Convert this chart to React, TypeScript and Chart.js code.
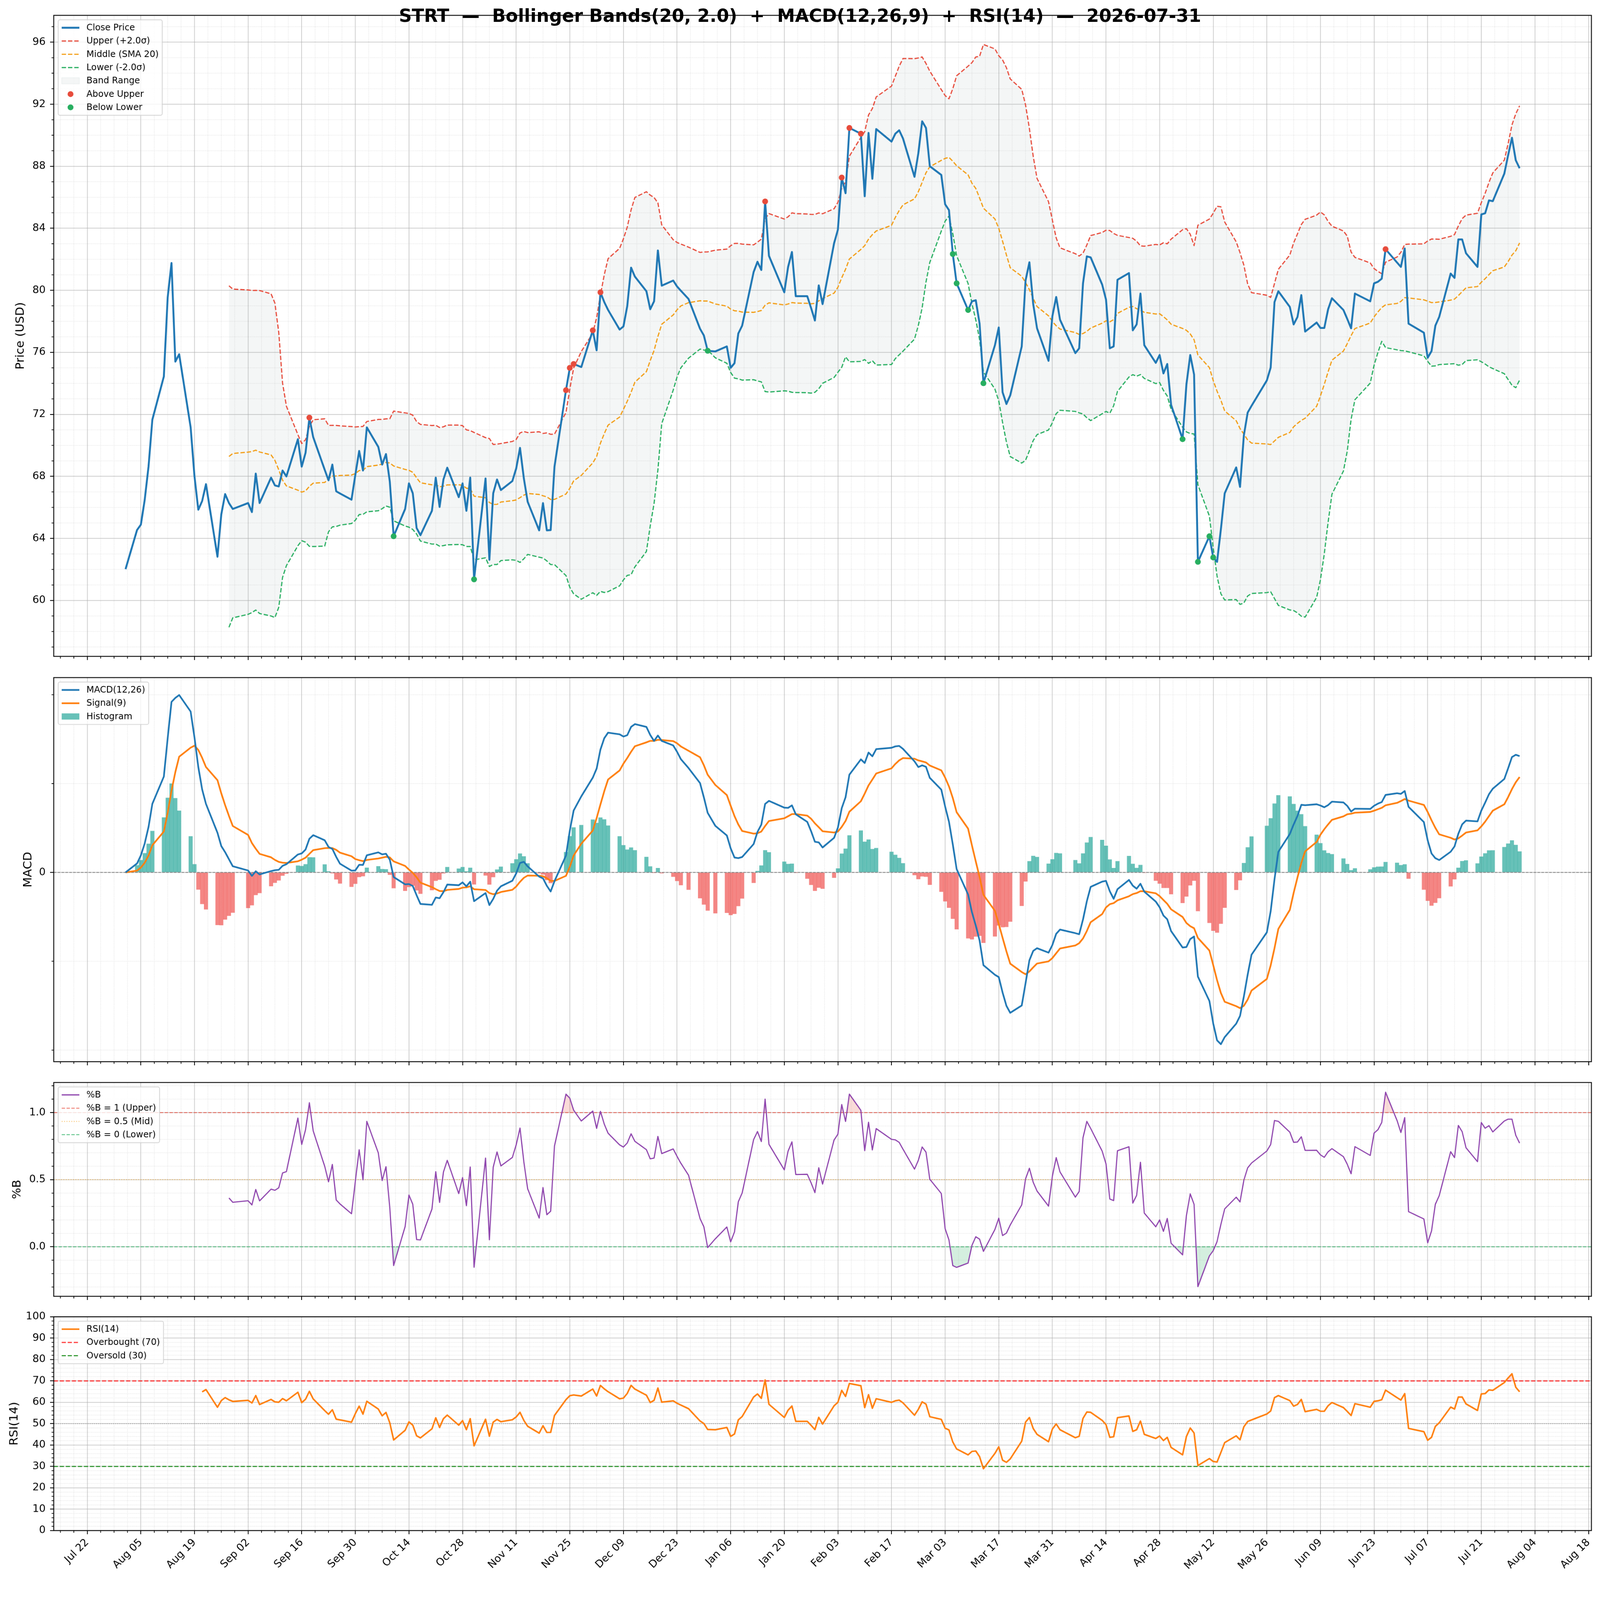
import React, { useEffect, useRef } from 'react';
import { Chart, registerables } from 'chart.js';

Chart.register(...registerables);

const FONT = '"DejaVu Sans", "Liberation Sans", sans-serif';
const W = 4378;
const H = 4322;

// ---------------- DATA ----------------
const TITLE = 'STRT  \u2014  Bollinger Bands(20, 2.0)  +  MACD(12,26,9)  +  RSI(14)  \u2014  2026-07-31';

// daily closing prices, one value per trading day (weekdays minus market holidays), grouped by month
const close2025Aug = [62.02, 64.54, 64.89, 66.48, 68.63, 71.66, 74.44, 79.54, 81.76, 75.40, 75.88, 71.16, 68.00, 65.85, 66.41, 67.50, 62.82, 65.55, 66.86, 66.28, 65.90];
const close2025Sep = [66.28, 65.70, 68.18, 66.28, 67.92, 67.42, 67.35, 68.38, 68.00, 70.40, 68.63, 69.52, 71.79, 70.53, 68.43, 67.75, 68.76, 67.04, 66.90, 66.50, 68.10];
const close2025Oct = [69.64, 68.38, 71.16, 69.90, 68.76, 69.44, 67.67, 64.14, 65.90, 67.55, 66.91, 64.67, 64.21, 65.78, 67.92, 66.03, 67.80, 68.56, 66.66, 67.55, 65.78, 67.92, 61.36];
const close2025Nov = [67.87, 62.62, 66.91, 67.80, 67.12, 67.70, 68.51, 69.84, 67.87, 66.36, 64.52, 66.28, 64.52, 64.54, 68.63, 73.56, 75.00, 75.25, 75.05];
const close2025Dec = [77.42, 76.13, 79.87, 79.24, 78.73, 77.47, 77.67, 78.98, 81.46, 80.88, 79.94, 78.78, 79.29, 82.57, 80.30, 80.63, 80.25, 79.97, 79.44, 77.52, 77.09, 76.10];
const close2026Jan = [76.06, 76.38, 75.00, 75.30, 77.22, 77.72, 81.18, 81.84, 81.31, 85.73, 82.22, 79.87, 81.51, 82.47, 79.62, 79.62, 78.86, 78.05, 80.32, 79.11];
const close2026Feb = [83.03, 83.91, 87.27, 86.26, 90.47, 90.10, 86.06, 90.15, 87.19, 90.40, 89.59, 90.10, 90.32, 89.79, 87.32, 88.83, 90.90, 90.47, 88.00];
const close2026Mar = [87.44, 85.55, 85.17, 82.34, 80.45, 78.73, 79.29, 79.36, 77.85, 74.01, 76.46, 77.60, 73.43, 72.67, 73.23, 76.38, 80.63, 81.81, 79.11, 77.55, 75.45, 78.33];
const close2026Apr = [79.57, 78.10, 75.95, 76.26, 80.45, 82.19, 82.12, 80.37, 79.41, 76.26, 76.38, 80.68, 81.11, 77.42, 77.80, 79.79, 76.46, 75.32, 75.83, 74.64, 75.25];
const close2026May = [72.62, 70.40, 73.93, 75.83, 74.57, 62.49, 64.14, 62.77, 62.49, 64.59, 66.91, 68.58, 67.32, 70.65, 72.12, 72.55, 74.19, 75.02, 79.24, 79.94];
const close2026Jun = [78.93, 77.80, 78.28, 79.69, 77.34, 77.92, 77.57, 77.57, 78.78, 79.49, 78.73, 78.15, 77.55, 79.79, 79.29, 80.45, 80.55, 80.75, 82.65, 81.79, 81.51];
const close2026Jul = [82.70, 77.85, 77.27, 75.65, 76.08, 77.72, 78.28, 81.08, 80.80, 83.28, 83.28, 82.39, 81.51, 84.89, 84.97, 85.80, 85.75, 87.52, 88.71, 89.84, 88.38, 87.87];

// market holidays with no bar
const HOLIDAYS = ['2025-09-01', '2025-11-27', '2025-12-25', '2026-01-01', '2026-01-19', '2026-02-16', '2026-04-03', '2026-05-25', '2026-06-19', '2026-07-03'];

const MONTH_BLOCKS = [
  { year: 2025, month: 7, close: close2025Aug },
  { year: 2025, month: 8, close: close2025Sep },
  { year: 2025, month: 9, close: close2025Oct },
  { year: 2025, month: 10, close: close2025Nov },
  { year: 2025, month: 11, close: close2025Dec },
  { year: 2026, month: 0, close: close2026Jan },
  { year: 2026, month: 1, close: close2026Feb },
  { year: 2026, month: 2, close: close2026Mar },
  { year: 2026, month: 3, close: close2026Apr },
  { year: 2026, month: 4, close: close2026May },
  { year: 2026, month: 5, close: close2026Jun },
  { year: 2026, month: 6, close: close2026Jul },
];

// x-axis tick labels: every 14 days starting 2025-07-22 (day 0)
const X_TICK_LABELS = ['Jul 22', 'Aug 05', 'Aug 19', 'Sep 02', 'Sep 16', 'Sep 30', 'Oct 14', 'Oct 28', 'Nov 11', 'Nov 25', 'Dec 09', 'Dec 23', 'Jan 06', 'Jan 20', 'Feb 03', 'Feb 17', 'Mar 03', 'Mar 17', 'Mar 31', 'Apr 14', 'Apr 28', 'May 12', 'May 26', 'Jun 09', 'Jun 23', 'Jul 07', 'Jul 21', 'Aug 04', 'Aug 18'];
const X_TICK_STEP_DAYS = 14;
const PRICE_TICKS = [60, 64, 68, 72, 76, 80, 84, 88, 92, 96];
const MACD_TICKS = [0];
const PCTB_TICKS = [0, 0.5, 1.0];
const RSI_TICKS = [0, 10, 20, 30, 40, 50, 60, 70, 80, 90, 100];

const BB_WINDOW = 20;
const BB_K = 2;
const MACD_FAST = 12;
const MACD_SLOW = 26;
const MACD_SIGNAL = 9;
const RSI_N = 14;
const RSI_OVERBOUGHT = 70;
const RSI_OVERSOLD = 30;
const RSI_MID = 50;

// ---------------- styles ----------------
const BLUE = '#1f77b4';
const ORANGE = '#ff7f0e';
const RED = '#e74c3c';
const MID_ORANGE = '#f39c12';
const GREEN = '#27ae60';
const PURPLE = '#8e44ad';
const TEAL = 'rgba(38,166,154,0.7)';
const SALMON = 'rgba(239,83,80,0.7)';
const BAND_FILL = 'rgba(149,165,166,0.1)';
const MAJOR_GRID = 'rgba(176,176,176,0.6)';
const MINOR_GRID = 'rgba(176,176,176,0.5)';

const AREA_LEFT = 147;
const AREA_RIGHT = 4354.5;
const PANELS = [
  { top: 0, h: 1830, areaTop: 42, areaBottom: 1796 },
  { top: 1830, h: 1100, areaTop: 1854, areaBottom: 2905 },
  { top: 2930, h: 650, areaTop: 2962, areaBottom: 3547 },
  { top: 3580, h: 742, areaTop: 3603, areaBottom: 4188 },
];

// ---------------- derived series ----------------
const DAY0 = Date.UTC(2025, 6, 22);
const pad2 = (n: number) => (n < 10 ? '0' + n : String(n));
const xs: number[] = [];
const close: number[] = [];
for (const blk of MONTH_BLOCKS) {
  let k = 0;
  for (let d = 1; d <= 31; d++) {
    const t = Date.UTC(blk.year, blk.month, d);
    const dt = new Date(t);
    if (dt.getUTCMonth() !== blk.month) break;
    const wd = dt.getUTCDay();
    if (wd === 0 || wd === 6) continue;
    const iso = `${blk.year}-${pad2(blk.month + 1)}-${pad2(d)}`;
    if (HOLIDAYS.includes(iso)) continue;
    if (k < blk.close.length) {
      xs.push(Math.round((t - DAY0) / 86400000));
      close.push(blk.close[k]);
    }
    k++;
  }
}

function rollingMeanStd(a: number[], n: number) {
  const mid: (number | null)[] = [];
  const sd: (number | null)[] = [];
  for (let i = 0; i < a.length; i++) {
    if (i < n - 1) { mid.push(null); sd.push(null); continue; }
    const w = a.slice(i - n + 1, i + 1);
    const m = w.reduce((s, v) => s + v, 0) / n;
    const v = w.reduce((s, x) => s + (x - m) * (x - m), 0) / (n - 1);
    mid.push(m);
    sd.push(Math.sqrt(v));
  }
  return { mid, sd };
}
function ema(a: number[], span: number) {
  const k = 2 / (span + 1);
  const out: number[] = [];
  let prev = a[0];
  a.forEach((v, i) => { prev = i === 0 ? v : k * v + (1 - k) * prev; out.push(prev); });
  return out;
}
function rsiWilder(a: number[], n: number) {
  const out: (number | null)[] = a.map(() => null);
  let ag = 0, al = 0;
  for (let i = 1; i < a.length; i++) {
    const d = a[i] - a[i - 1];
    const g = Math.max(d, 0), l = Math.max(-d, 0);
    if (i === 1) { ag = g; al = l; } else { ag += (g - ag) / n; al += (l - al) / n; }
    if (i >= n) out[i] = al === 0 ? 100 : 100 - 100 / (1 + ag / al);
  }
  return out;
}

const bb = rollingMeanStd(close, BB_WINDOW);
const middle = bb.mid;
const upper = bb.mid.map((m, i) => (m == null ? null : m + BB_K * (bb.sd[i] as number)));
const lower = bb.mid.map((m, i) => (m == null ? null : m - BB_K * (bb.sd[i] as number)));
const emaFast = ema(close, MACD_FAST);
const emaSlow = ema(close, MACD_SLOW);
const macd = emaFast.map((v, i) => v - emaSlow[i]);
const signal = ema(macd, MACD_SIGNAL);
const hist = macd.map((v, i) => v - signal[i]);
const pctB = close.map((c, i) => (upper[i] == null ? null : (c - (lower[i] as number)) / ((upper[i] as number) - (lower[i] as number))));
const rsi = rsiWilder(close, RSI_N);

const pts = (ys: (number | null)[]) => xs.map((x, i) => ({ x, y: ys[i] }));
const aboveUpper = xs.map((x, i) => (upper[i] != null && close[i] > (upper[i] as number) ? { x, y: close[i] } : null)).filter(Boolean);
const belowLower = xs.map((x, i) => (lower[i] != null && close[i] < (lower[i] as number) ? { x, y: close[i] } : null)).filter(Boolean);

// axis limits like matplotlib autoscale (5% margins, bars 1 day wide)
const X_MIN = xs[0] - 0.5 - 0.05 * (xs[xs.length - 1] - xs[0] + 1);
const X_MAX = xs[xs.length - 1] + 0.5 + 0.05 * (xs[xs.length - 1] - xs[0] + 1);
function padRange(vals: (number | null)[]) {
  const v = vals.filter((x) => x != null && isFinite(x as number)) as number[];
  const lo = Math.min(...v), hi = Math.max(...v);
  const r = hi - lo;
  return [lo - 0.05 * r, hi + 0.05 * r];
}
const PRICE_RANGE = padRange([...close, ...upper, ...lower, ...middle]);
const MACD_RANGE = padRange([...macd, ...signal, ...hist]);
const PCTB_RANGE = padRange(pctB);
const RSI_RANGE = [0, 100];

function minorValues(lo: number, hi: number, step: number, major: number | null) {
  const out: number[] = [];
  for (let k = Math.ceil(lo / step - 1e-9); k * step <= hi + 1e-9; k++) {
    const v = k * step;
    if (major == null ? Math.abs(v) < 1e-9 : Math.abs(v / major - Math.round(v / major)) < 1e-6) continue;
    out.push(v);
  }
  return out;
}
const X_MINOR = minorValues(X_MIN, X_MAX, X_TICK_STEP_DAYS / 4, X_TICK_STEP_DAYS);

// ---------------- legend + decorations ----------------
type LegendItem = { label: string; kind: 'line' | 'dot' | 'patch'; color: string; width?: number; dash?: number[]; edge?: string };

function drawLegend(ctx: CanvasRenderingContext2D, ca: any, items: LegendItem[]) {
  const fs = 24.2;
  const pad = 0.4 * fs, axPad = 0.5 * fs, hl = 2 * fs, htp = 0.8 * fs, ls = 0.5 * fs;
  ctx.save();
  ctx.font = `${fs}px ${FONT}`;
  let tw = 0;
  for (const it of items) tw = Math.max(tw, ctx.measureText(it.label).width);
  const w = 2 * pad + hl + htp + tw;
  const h = 2 * pad + items.length * fs + (items.length - 1) * ls;
  const x0 = ca.left + axPad, y0 = ca.top + axPad;
  ctx.beginPath();
  if ((ctx as any).roundRect) (ctx as any).roundRect(x0, y0, w, h, 0.2 * fs); else ctx.rect(x0, y0, w, h);
  ctx.fillStyle = 'rgba(255,255,255,0.8)';
  ctx.fill();
  ctx.lineWidth = 2.2;
  ctx.strokeStyle = 'rgba(204,204,204,0.85)';
  ctx.stroke();
  items.forEach((it, i) => {
    const cy = y0 + pad + i * (fs + ls) + fs / 2;
    const hx0 = x0 + pad, hx1 = hx0 + hl;
    if (it.kind === 'line') {
      ctx.beginPath();
      ctx.setLineDash(it.dash || []);
      ctx.lineWidth = it.width || 3;
      ctx.strokeStyle = it.color;
      ctx.lineCap = 'butt';
      ctx.moveTo(hx0, cy);
      ctx.lineTo(hx1, cy);
      ctx.stroke();
      ctx.setLineDash([]);
    } else if (it.kind === 'dot') {
      ctx.beginPath();
      ctx.arc((hx0 + hx1) / 2, cy, 8, 0, Math.PI * 2);
      ctx.fillStyle = it.color;
      ctx.fill();
    } else {
      ctx.fillStyle = it.color;
      ctx.fillRect(hx0, cy - 0.35 * fs, hl, 0.7 * fs);
      if (it.edge) {
        ctx.lineWidth = 1.5;
        ctx.strokeStyle = it.edge;
        ctx.strokeRect(hx0, cy - 0.35 * fs, hl, 0.7 * fs);
      }
    }
    ctx.fillStyle = '#000';
    ctx.textAlign = 'left';
    ctx.textBaseline = 'middle';
    ctx.fillText(it.label, hx1 + htp, cy + 1);
  });
  ctx.restore();
}

function decor(yMinor: number[], legend: LegendItem[]) {
  return {
    id: 'mplDecor',
    beforeDatasetsDraw(chart: any) {
      const { ctx, chartArea: ca } = chart;
      const sx = chart.scales.x, sy = chart.scales.y;
      ctx.save();
      ctx.beginPath();
      ctx.rect(ca.left, ca.top, ca.right - ca.left, ca.bottom - ca.top);
      ctx.clip();
      ctx.lineWidth = 1.5;
      ctx.strokeStyle = MINOR_GRID;
      ctx.setLineDash([1.5, 2.6]);
      ctx.beginPath();
      X_MINOR.forEach((v) => { const p = sx.getPixelForValue(v); ctx.moveTo(p, ca.top); ctx.lineTo(p, ca.bottom); });
      yMinor.forEach((v) => { const p = sy.getPixelForValue(v); ctx.moveTo(ca.left, p); ctx.lineTo(ca.right, p); });
      ctx.stroke();
      ctx.restore();
    },
    afterDatasetsDraw(chart: any) {
      const { ctx, chartArea: ca } = chart;
      const sx = chart.scales.x, sy = chart.scales.y;
      ctx.save();
      ctx.setLineDash([]);
      ctx.strokeStyle = '#000';
      ctx.lineWidth = 1.8;
      ctx.beginPath();
      X_MINOR.forEach((v) => { const p = sx.getPixelForValue(v); ctx.moveTo(p, ca.bottom); ctx.lineTo(p, ca.bottom + 6); });
      yMinor.forEach((v) => { const p = sy.getPixelForValue(v); ctx.moveTo(ca.left - 6, p); ctx.lineTo(ca.left, p); });
      ctx.stroke();
      ctx.lineWidth = 2.4;
      ctx.strokeRect(ca.left, ca.top, ca.right - ca.left, ca.bottom - ca.top);
      ctx.restore();
    },
    afterDraw(chart: any) {
      drawLegend(chart.ctx, chart.chartArea, legend);
    },
  };
}

function makeOptions(pi: number, range: number[], yTicks: number[], yFmt: (v: number) => string, yTitle: string, yTitleCenter: number) {
  const p = PANELS[pi];
  const last = pi === PANELS.length - 1;
  const titleSize = 32.5;
  return {
    responsive: false,
    animation: false,
    devicePixelRatio: 1,
    events: [],
    layout: { padding: { top: p.areaTop - p.top, right: W - AREA_RIGHT, bottom: 0, left: 0 } },
    elements: { point: { radius: 0, hoverRadius: 0 }, line: { tension: 0, borderJoinStyle: 'round' } },
    plugins: {
      legend: { display: false },
      tooltip: { enabled: false },
      filler: { drawTime: 'beforeDatasetsDraw', propagate: false },
    },
    scales: {
      x: {
        type: 'linear',
        position: 'bottom',
        min: X_MIN,
        max: X_MAX,
        bounds: 'data',
        offset: false,
        afterBuildTicks: (s: any) => { s.ticks = X_TICK_LABELS.map((_, i) => ({ value: i * X_TICK_STEP_DAYS })); },
        afterFit: (s: any) => { s.height = p.top + p.h - p.areaBottom; s.paddingLeft = 0; s.paddingRight = 0; },
        grid: { display: true, drawOnChartArea: true, drawTicks: true, color: MAJOR_GRID, lineWidth: 2.2, tickLength: 10, tickColor: '#000', tickWidth: 2.2, offset: false },
        border: { display: false },
        ticks: {
          display: last,
          autoSkip: false,
          minRotation: 45,
          maxRotation: 45,
          padding: 6,
          color: '#000',
          font: { family: FONT, size: 28.5 },
          callback: (v: number) => X_TICK_LABELS[Math.round(v / X_TICK_STEP_DAYS)] ?? '',
        },
      },
      y: {
        type: 'linear',
        position: 'left',
        min: range[0],
        max: range[1],
        bounds: 'data',
        afterBuildTicks: (s: any) => { s.ticks = yTicks.filter((v) => v >= range[0] - 1e-9 && v <= range[1] + 1e-9).map((v) => ({ value: v })); },
        afterFit: (s: any) => { s.width = AREA_LEFT; s.paddingTop = 0; s.paddingBottom = 0; },
        grid: { color: MAJOR_GRID, lineWidth: 2.2, tickLength: 10, tickColor: '#000', tickWidth: 2.2 },
        border: { display: false },
        ticks: { padding: 12, color: '#000', font: { family: FONT, size: 28.5 }, callback: (v: number) => yFmt(v) },
        title: {
          display: true,
          text: yTitle,
          color: '#000',
          font: { family: FONT, size: titleSize },
          padding: { top: yTitleCenter - (titleSize * 1.2) / 2, bottom: 0 },
        },
      },
    },
  };
}

const hline = (y: number) => [{ x: X_MIN, y }, { x: X_MAX, y }];
const lineDs = (label: string, data: any[], color: string, width: number, dash: number[] = []) => ({
  type: 'line', label, data, borderColor: color, borderWidth: width, borderDash: dash, pointRadius: 0, fill: false, spanGaps: false,
});
const fillDs = (data: any[], level: number, above: string, below: string) => ({
  type: 'line', data, borderColor: 'rgba(0,0,0,0)', borderWidth: 1, pointRadius: 0, spanGaps: false,
  fill: { target: { value: level }, above, below },
});

function buildConfigs() {
  const price = {
    type: 'line',
    data: {
      datasets: [
        { type: 'line', label: 'Above Upper', data: aboveUpper, showLine: false, pointRadius: 8, pointBackgroundColor: RED, pointBorderWidth: 0, borderColor: RED },
        { type: 'line', label: 'Below Lower', data: belowLower, showLine: false, pointRadius: 8, pointBackgroundColor: GREEN, pointBorderWidth: 0, borderColor: GREEN },
        lineDs('Close Price', pts(close), BLUE, 5.2),
        { ...lineDs('Upper (+2.0\u03c3)', pts(upper), RED, 3.2, [12, 5.2]), fill: 5, backgroundColor: BAND_FILL },
        lineDs('Middle (SMA 20)', pts(middle), MID_ORANGE, 3.2, [12, 5.2]),
        lineDs('Lower (-2.0\u03c3)', pts(lower), GREEN, 3.2, [12, 5.2]),
      ],
    },
    options: makeOptions(0, PRICE_RANGE, PRICE_TICKS, (v) => String(v), 'Price (USD)', 57),
    plugins: [decor(minorValues(PRICE_RANGE[0], PRICE_RANGE[1], 1, 4), [
      { label: 'Close Price', kind: 'line', color: BLUE, width: 5.2 },
      { label: 'Upper (+2.0\u03c3)', kind: 'line', color: RED, width: 3.2, dash: [12, 5.2] },
      { label: 'Middle (SMA 20)', kind: 'line', color: MID_ORANGE, width: 3.2, dash: [12, 5.2] },
      { label: 'Lower (-2.0\u03c3)', kind: 'line', color: GREEN, width: 3.2, dash: [12, 5.2] },
      { label: 'Band Range', kind: 'patch', color: BAND_FILL, edge: 'rgba(149,165,166,0.15)' },
      { label: 'Above Upper', kind: 'dot', color: RED },
      { label: 'Below Lower', kind: 'dot', color: GREEN },
    ])],
  };

  const macdCfg = {
    type: 'line',
    data: {
      datasets: [
        lineDs('MACD(12,26)', pts(macd), BLUE, 4.6),
        lineDs('Signal(9)', pts(signal), ORANGE, 4.6),
        lineDs('zero', hline(0), 'rgba(128,128,128,0.9)', 2.2, [7.4, 3.2]),
        {
          type: 'bar', label: 'Histogram', data: pts(hist),
          backgroundColor: hist.map((v) => (v >= 0 ? TEAL : SALMON)),
          borderWidth: 0, categoryPercentage: 1, barPercentage: 1, grouped: false,
        },
      ],
    },
    options: makeOptions(1, MACD_RANGE, MACD_TICKS, () => '0', 'MACD', 78),
    plugins: [decor(minorValues(MACD_RANGE[0], MACD_RANGE[1], 2, null), [
      { label: 'MACD(12,26)', kind: 'line', color: BLUE, width: 4.6 },
      { label: 'Signal(9)', kind: 'line', color: ORANGE, width: 4.6 },
      { label: 'Histogram', kind: 'patch', color: TEAL },
    ])],
  };

  const pctCfg = {
    type: 'line',
    data: {
      datasets: [
        lineDs('%B', pts(pctB), PURPLE, 3.1),
        lineDs('%B = 1 (Upper)', hline(PCTB_TICKS[2]), 'rgba(231,76,60,0.7)', 2.5, [9.2, 4]),
        lineDs('%B = 0.5 (Mid)', hline(PCTB_TICKS[1]), 'rgba(243,156,18,0.6)', 2.5, [2.5, 4.1]),
        lineDs('%B = 0 (Lower)', hline(PCTB_TICKS[0]), 'rgba(39,174,96,0.7)', 2.5, [9.2, 4]),
        fillDs(pts(pctB), 1, 'rgba(231,76,60,0.2)', 'rgba(0,0,0,0)'),
        fillDs(pts(pctB), 0, 'rgba(0,0,0,0)', 'rgba(39,174,96,0.2)'),
      ],
    },
    options: makeOptions(2, PCTB_RANGE, PCTB_TICKS, (v) => v.toFixed(1), '%B', 47.5),
    plugins: [decor(minorValues(PCTB_RANGE[0], PCTB_RANGE[1], 0.1, 0.5), [
      { label: '%B', kind: 'line', color: PURPLE, width: 3.1 },
      { label: '%B = 1 (Upper)', kind: 'line', color: 'rgba(231,76,60,0.7)', width: 2.5, dash: [9.2, 4] },
      { label: '%B = 0.5 (Mid)', kind: 'line', color: 'rgba(243,156,18,0.6)', width: 2.5, dash: [2.5, 4.1] },
      { label: '%B = 0 (Lower)', kind: 'line', color: 'rgba(39,174,96,0.7)', width: 2.5, dash: [9.2, 4] },
    ])],
  };

  const rsiCfg = {
    type: 'line',
    data: {
      datasets: [
        lineDs('RSI(14)', pts(rsi), ORANGE, 4.2),
        lineDs('Overbought (70)', hline(RSI_OVERBOUGHT), 'rgba(255,0,0,0.8)', 3.1, [11.5, 5]),
        lineDs('Oversold (30)', hline(RSI_OVERSOLD), 'rgba(0,128,0,0.8)', 3.1, [11.5, 5]),
        lineDs('mid', hline(RSI_MID), 'rgba(128,128,128,0.7)', 2.2, [2.2, 3.6]),
        fillDs(pts(rsi), RSI_OVERBOUGHT, 'rgba(255,0,0,0.15)', 'rgba(0,0,0,0)'),
        fillDs(pts(rsi), RSI_OVERSOLD, 'rgba(0,0,0,0)', 'rgba(0,128,0,0.15)'),
      ],
    },
    options: makeOptions(3, RSI_RANGE, RSI_TICKS, (v) => String(v), 'RSI(14)', 39.5),
    plugins: [decor(minorValues(0, 100, 2, 10), [
      { label: 'RSI(14)', kind: 'line', color: ORANGE, width: 4.2 },
      { label: 'Overbought (70)', kind: 'line', color: 'rgba(255,0,0,0.8)', width: 3.1, dash: [11.5, 5] },
      { label: 'Oversold (30)', kind: 'line', color: 'rgba(0,128,0,0.8)', width: 3.1, dash: [11.5, 5] },
    ])],
  };
  return [price, macdCfg, pctCfg, rsiCfg];
}

export default function App() {
  const r0 = useRef<HTMLCanvasElement>(null);
  const r1 = useRef<HTMLCanvasElement>(null);
  const r2 = useRef<HTMLCanvasElement>(null);
  const r3 = useRef<HTMLCanvasElement>(null);
  const refs = [r0, r1, r2, r3];

  // fit the 4378x4322 figure into whatever viewport the browser really has
  const vw = typeof window !== 'undefined' ? window.innerWidth : W;
  const vh = typeof window !== 'undefined' ? window.innerHeight : H;
  const S = Math.min(1, vw / W, vh / H);

  useEffect(() => {
    document.body.style.margin = '0';
    document.body.style.overflow = 'hidden';
    const cfgs = buildConfigs();
    const charts = cfgs.map((cfg, i) => new Chart(refs[i].current as HTMLCanvasElement, cfg as any));
    return () => charts.forEach((c) => c.destroy());
  }, []);

  return (
    <div style={{ position: 'relative', width: W * S, height: H * S, overflow: 'hidden', background: '#ffffff' }}>
      <div
        style={{
          position: 'absolute', left: 0, top: 0, width: W, height: H,
          transform: `scale(${S})`, transformOrigin: '0 0', background: '#ffffff',
        }}
      >
        {PANELS.map((p, i) => (
          <canvas
            key={i}
            ref={refs[i]}
            width={W}
            height={p.h}
            style={{ position: 'absolute', left: 0, top: p.top, width: W, height: p.h }}
          />
        ))}
        <div
          style={{
            position: 'absolute', left: 0, top: 18.5, width: W, textAlign: 'center',
            fontFamily: FONT, fontWeight: 'bold', fontSize: 49, lineHeight: '49px',
            whiteSpace: 'pre', color: '#000', pointerEvents: 'none',
          }}
        >
          {TITLE}
        </div>
      </div>
    </div>
  );
}
